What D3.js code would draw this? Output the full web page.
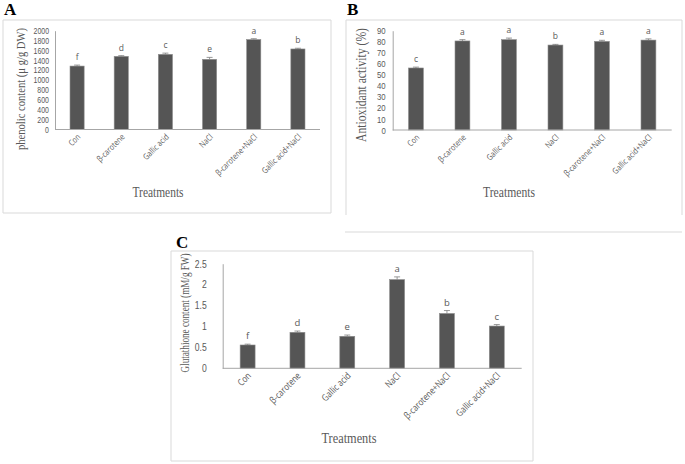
<!DOCTYPE html>
<html>
<head>
<meta charset="utf-8">
<script src="https://cdn.jsdelivr.net/npm/d3@7"></script>
<style>
  body { margin: 0; background: #fff; }
  svg { display: block; }
</style>
</head>
<body>
<svg id="fig" width="685" height="464"></svg>
<script>
// categories shared by the three panels
const treatments = ['Con', 'β-carotene', 'Gallic acid', 'NaCl', 'β-carotene+NaCl', 'Gallic acid+NaCl'];

// panel A - phenolic content
const phenolic = [1284, 1480, 1521, 1420, 1820, 1630];
const phenolicErr = [20, 15, 25, 40, 18, 15];
const phenolicLetters = ['f', 'd', 'c', 'e', 'a', 'b'];
const phenolicTicks = [0, 200, 400, 600, 800, 1000, 1200, 1400, 1600, 1800, 2000];

// panel B - antioxidant activity
const antiox = [56.2, 80.7, 81.9, 77, 80.3, 81.5];
const antioxErr = [0.8, 1.2, 1.4, 0.6, 1.0, 1.1];
const antioxLetters = ['c', 'a', 'a', 'b', 'a', 'a'];
const antioxTicks = [0, 10, 20, 30, 40, 50, 60, 70, 80, 90];

// panel C - glutathione content
const glut = [0.557, 0.86, 0.765, 2.12, 1.31, 1.01];
const glutErr = [0.02, 0.03, 0.03, 0.065, 0.07, 0.035];
const glutLetters = ['f', 'd', 'e', 'a', 'b', 'c'];
const glutTicks = [0, 0.5, 1, 1.5, 2, 2.5];

const svg = d3.select('#fig');
const grey = '#595959';
const sans = "'Open Sans', 'Liberation Sans', sans-serif";
const tickFont = "'Liberation Sans', Arial, sans-serif";
const serif = "'Liberation Serif', 'Times New Roman', serif";
const squeeze = 0.82;   // the source figure is a bit narrow horizontally

const drawPanel = (p) => {
    const g = svg.append('g');

    // frame round the chart
    const bx = p.box;
    const framePath = p.openBottom
        ? `M ${bx[0]} ${bx[3]} L ${bx[0]} ${bx[1]} L ${bx[2]} ${bx[1]} L ${bx[2]} ${bx[3]}`
        : `M ${bx[0]} ${bx[1]} H ${bx[2]} V ${bx[3]} H ${bx[0]} Z`;
    g.append('path')
        .attr('d', framePath)
        .attr('fill', 'none')
        .attr('stroke', '#d9d9d9')
        .attr('stroke-width', 1);

    g.append('text')
        .attr('x', p.letterPos[0])
        .attr('y', p.letterPos[1])
        .style('font-family', serif)
        .style('font-weight', 'bold')
        .style('font-size', '17px')
        .style('fill', '#000')
        .text(p.letter);

    const x = d3.scaleBand()
        .domain(treatments)
        .range([p.x0, p.x1])
        .paddingInner(p.pad)
        .paddingOuter(p.pad / 2);

    const y = d3.scaleLinear()
        .domain([0, p.max])
        .range([p.y0, p.yTop]);

    // y axis ticks
    const yAxis = d3.axisLeft(y)
        .tickValues(p.ticks)
        .tickSize(0)
        .tickPadding(p.tickGap)
        .tickFormat(d3.format(p.fmt));
    const ya = g.append('g')
        .attr('transform', `translate(${p.x0},0)`)
        .call(yAxis);
    ya.select('.domain').attr('stroke', '#a6a6a6');
    ya.selectAll('text')
        .attr('x', -p.tickGap / squeeze)
        .attr('transform', `scale(${squeeze},1)`)
        .style('font-family', tickFont)
        .style('font-size', p.tickSize + 'px')
        .style('fill', grey);

    // bars
    g.selectAll('rect.bar')
        .data(p.values)
        .enter()
        .append('rect')
        .attr('class', 'bar')
        .attr('x', (d, i) => x(treatments[i]))
        .attr('width', x.bandwidth())
        .attr('y', d => y(d))
        .attr('height', d => y(0) - y(d))
        .attr('fill', '#555555')
        .attr('stroke', '#8c8c8c')
        .attr('stroke-width', 0.6);

    // error bars
    const cxOf = i => x(treatments[i]) + x.bandwidth() / 2;
    const eg = g.append('g').attr('stroke', '#7f7f7f').attr('stroke-width', 0.8);
    p.values.forEach((v, i) => {
        const top = y(v + p.err[i]);
        eg.append('line')
            .attr('x1', cxOf(i)).attr('x2', cxOf(i))
            .attr('y1', y(v)).attr('y2', top);
        eg.append('line')
            .attr('x1', cxOf(i) - 3).attr('x2', cxOf(i) + 3)
            .attr('y1', top).attr('y2', top);
    });

    // significance letters
    g.selectAll('text.sig')
        .data(p.letters)
        .enter()
        .append('text')
        .attr('class', 'sig')
        .attr('x', (d, i) => cxOf(i))
        .attr('y', (d, i) => y(p.values[i] + p.err[i]) - 5)
        .attr('text-anchor', 'middle')
        .style('font-family', sans)
        .style('font-size', p.sigSize + 'px')
        .style('fill', grey)
        .text(d => d);

    // x axis line
    g.append('line')
        .attr('x1', p.x0).attr('x2', p.x1)
        .attr('y1', p.y0).attr('y2', p.y0)
        .attr('stroke', '#a6a6a6');

    // rotated category labels
    g.selectAll('text.cat')
        .data(treatments)
        .enter()
        .append('text')
        .attr('class', 'cat')
        .attr('text-anchor', 'end')
        .attr('transform', d => `translate(${x(d) + x.bandwidth() / 2 + 4},${p.y0 + 8}) rotate(-45) scale(${squeeze},1)`)
        .style('font-family', sans)
        .style('font-size', p.catSize + 'px')
        .style('fill', grey)
        .text(d => d);

    // axis titles
    g.append('text')
        .attr('transform', `translate(${p.yLabelPos[0]},${p.yLabelPos[1]}) rotate(-90)`)
        .attr('text-anchor', 'middle')
        .attr('textLength', p.yLabelLen)
        .attr('lengthAdjust', 'spacingAndGlyphs')
        .style('font-family', serif)
        .style('font-size', p.yLabelSize + 'px')
        .style('fill', grey)
        .text(p.yLabel);

    g.append('text')
        .attr('x', p.xLabelPos[0])
        .attr('y', p.xLabelPos[1])
        .attr('text-anchor', 'middle')
        .attr('textLength', p.titleLen)
        .attr('lengthAdjust', 'spacingAndGlyphs')
        .style('font-family', serif)
        .style('font-size', p.titleSize + 'px')
        .style('fill', grey)
        .text('Treatments');
};

drawPanel({
    letter: 'A', letterPos: [4, 15],
    box: [3, 20, 331, 213],
    x0: 55, x1: 320, y0: 129.5, yTop: 30.7, pad: 0.68,
    max: 2000, ticks: phenolicTicks, fmt: 'd', tickGap: 6, tickSize: 8.5,
    sigSize: 8.5, catSize: 8.5, titleSize: 14, titleLen: 51,
    values: phenolic, err: phenolicErr, letters: phenolicLetters,
    yLabel: 'phenolic content (μ g/g DW)', yLabelPos: [25, 89], yLabelLen: 122, yLabelSize: 12.5,
    xLabelPos: [158, 197]
});

drawPanel({
    letter: 'B', letterPos: [347, 15], openBottom: true,
    box: [346, 20, 682, 215],
    x0: 392.7, x1: 671.7, y0: 130, yTop: 30.7, pad: 0.68,
    max: 90, ticks: antioxTicks, fmt: 'd', tickGap: 7, tickSize: 9.5,
    sigSize: 8.5, catSize: 8.5, titleSize: 14, titleLen: 52,
    values: antiox, err: antioxErr, letters: antioxLetters,
    yLabel: 'Antioxidant activity (%)', yLabelPos: [366, 85], yLabelLen: 114, yLabelSize: 14,
    xLabelPos: [509, 197]
});

drawPanel({
    letter: 'C', letterPos: [176, 248],
    box: [171, 251, 533, 461],
    x0: 222.7, x1: 521.7, y0: 368.3, yTop: 263.7, pad: 0.7,
    max: 2.5, ticks: glutTicks, fmt: '', tickGap: 16, tickSize: 10.5,
    sigSize: 9.5, catSize: 9.5, titleSize: 15, titleLen: 55,
    values: glut, err: glutErr, letters: glutLetters,
    yLabel: 'Glutathione content (mM/g FW)', yLabelPos: [189, 313], yLabelLen: 119, yLabelSize: 13.5,
    xLabelPos: [349, 443]
});

// separator rule under panel B
svg.append('line')
    .attr('x1', 345).attr('x2', 682)
    .attr('y1', 232).attr('y2', 232)
    .attr('stroke', '#d9d9d9');
</script>
</body>
</html>
